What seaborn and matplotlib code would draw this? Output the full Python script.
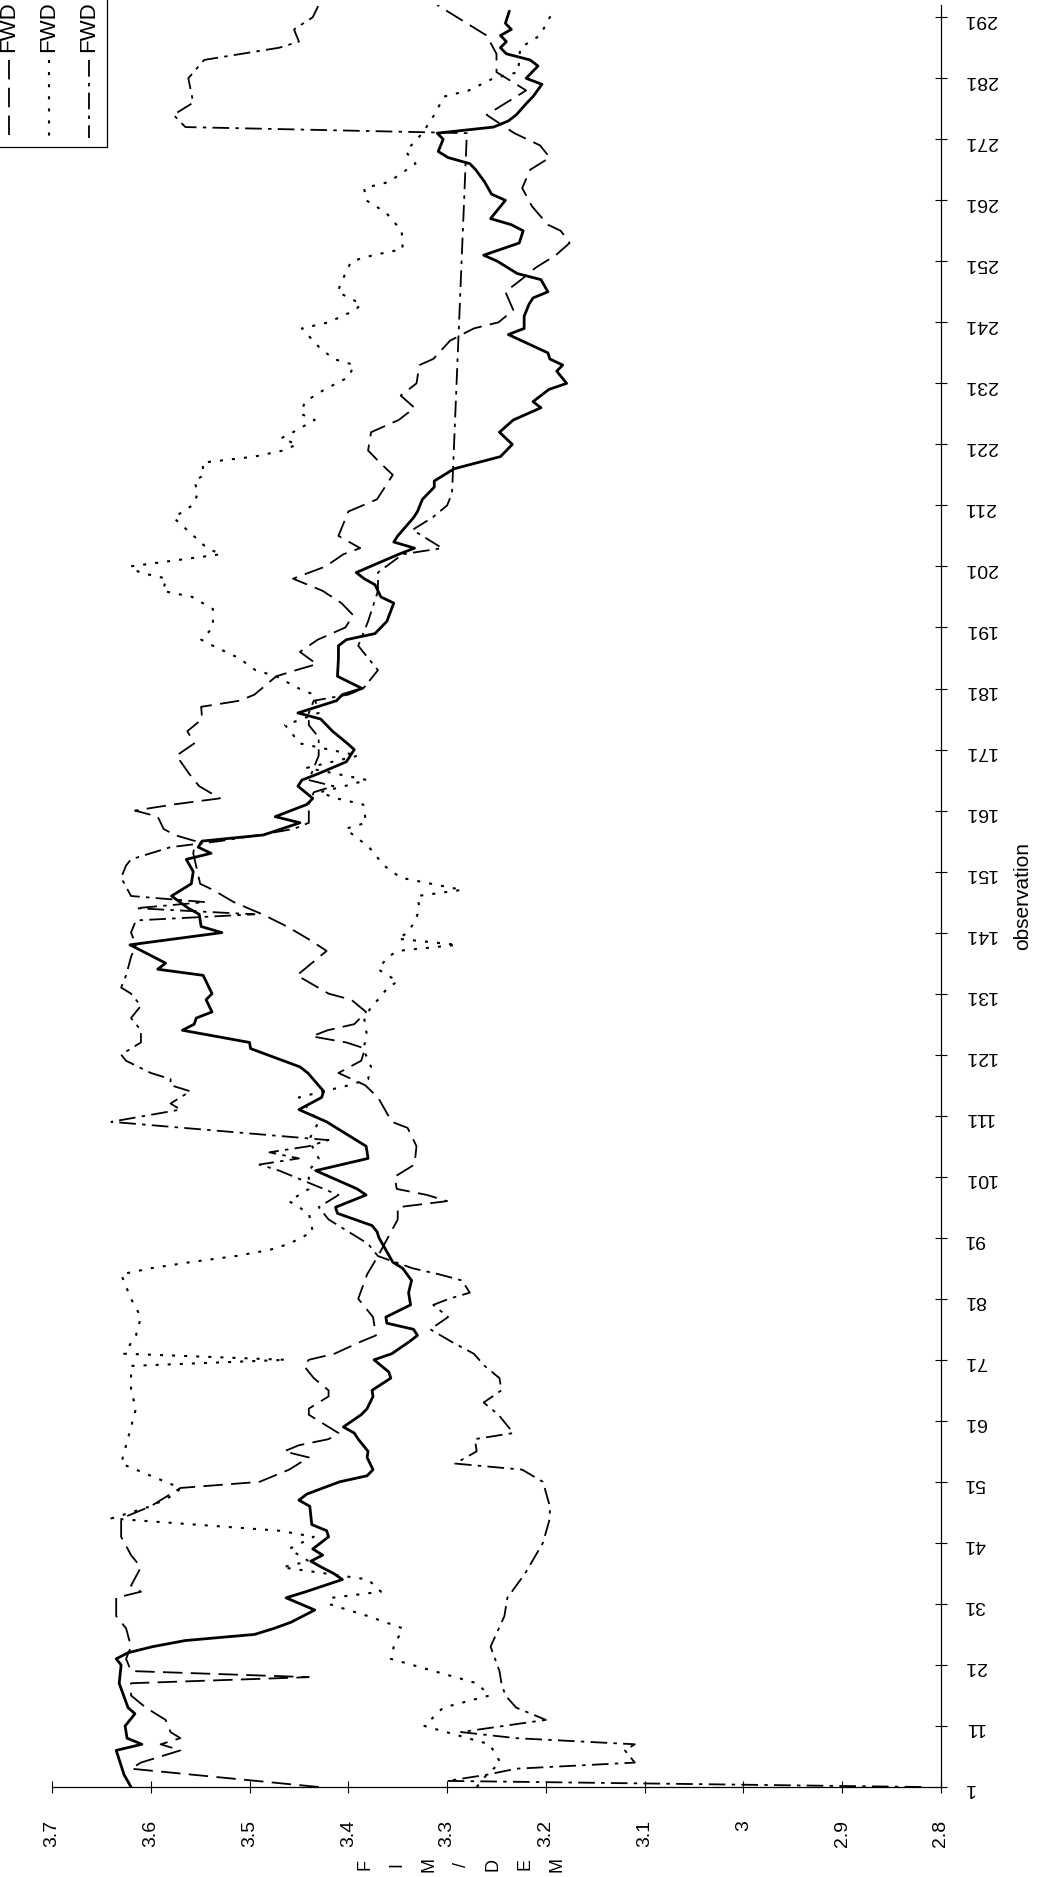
import matplotlib
matplotlib.use("Agg")
import matplotlib.pyplot as plt
import seaborn as sns
import pandas as pd
from matplotlib.lines import Line2D
from matplotlib.patches import Rectangle

W, H = 1041, 1877

# FIM/DEM values, per observation number
spot_obs = [1, 3, 7, 8, 9, 11, 13, 14, 18, 21,
            22, 23, 24, 25, 26, 27, 28, 30, 32, 33,
            35, 36, 37, 38, 39, 40, 42, 43, 44, 47,
            48, 49, 51, 52, 53, 55, 56, 58, 59, 60,
            62, 63, 65, 66, 68, 69, 71, 72, 74, 75,
            76, 77, 78, 80, 82, 84, 86, 87, 91, 92,
            93, 95, 96, 98, 99, 102, 104, 106, 110, 112,
            114, 115, 118, 119, 122, 123, 125, 126, 127, 128,
            130, 131, 134, 135, 136, 139, 141, 142, 144, 145,
            147, 149, 151, 153, 154, 155, 156, 157, 159, 160,
            162, 163, 165, 166, 167, 169, 171, 172, 174, 176,
            177, 179, 180, 181, 183, 186, 188, 189, 190, 192,
            195, 196, 198, 199, 200, 203, 204, 205, 206, 209,
            210, 212, 214, 215, 217, 219, 221, 223, 225, 227,
            228, 230, 231, 233, 234, 235, 236, 239, 240, 242,
            244, 245, 246, 248, 249, 251, 252, 254, 256, 257,
            258, 261, 262, 264, 266, 267, 268, 269, 271, 272,
            273, 274, 275, 277, 278, 280, 281, 283, 284, 285,
            286, 287, 288, 289, 290, 292]
spot_val = [3.620, 3.627, 3.635, 3.609, 3.624, 3.626, 3.616, 3.623, 3.632, 3.630,
            3.635, 3.623, 3.598, 3.565, 3.495, 3.475, 3.458, 3.434, 3.463, 3.443,
            3.406, 3.415, 3.427, 3.438, 3.426, 3.436, 3.420, 3.422, 3.437, 3.439,
            3.450, 3.442, 3.409, 3.381, 3.375, 3.381, 3.380, 3.390, 3.394, 3.405,
            3.387, 3.381, 3.375, 3.376, 3.357, 3.359, 3.374, 3.356, 3.338, 3.330,
            3.334, 3.361, 3.362, 3.337, 3.339, 3.336, 3.345, 3.355, 3.369, 3.371,
            3.376, 3.411, 3.413, 3.382, 3.391, 3.433, 3.380, 3.382, 3.422, 3.450,
            3.427, 3.425, 3.441, 3.449, 3.499, 3.500, 3.568, 3.556, 3.554, 3.538,
            3.544, 3.538, 3.547, 3.593, 3.585, 3.621, 3.528, 3.549, 3.551, 3.562,
            3.579, 3.559, 3.557, 3.564, 3.539, 3.552, 3.548, 3.486, 3.449, 3.474,
            3.442, 3.436, 3.451, 3.447, 3.431, 3.402, 3.394, 3.401, 3.416, 3.428,
            3.451, 3.412, 3.406, 3.386, 3.411, 3.410, 3.410, 3.402, 3.373, 3.361,
            3.354, 3.367, 3.373, 3.384, 3.392, 3.349, 3.333, 3.354, 3.350, 3.334,
            3.330, 3.325, 3.313, 3.313, 3.293, 3.246, 3.234, 3.247, 3.233, 3.205,
            3.213, 3.197, 3.179, 3.189, 3.183, 3.196, 3.198, 3.238, 3.222, 3.222,
            3.217, 3.213, 3.198, 3.205, 3.229, 3.249, 3.263, 3.227, 3.223, 3.235,
            3.256, 3.241, 3.255, 3.262, 3.271, 3.277, 3.299, 3.309, 3.304, 3.310,
            3.253, 3.238, 3.230, 3.219, 3.213, 3.204, 3.220, 3.208, 3.216, 3.240,
            3.246, 3.240, 3.246, 3.235, 3.241, 3.237]

fwd_dash_obs = [1, 4, 5, 7, 8, 9, 10, 12, 13, 14,
                16, 18, 19, 20, 22, 24, 27, 29, 32, 33,
                34, 37, 39, 42, 45, 47, 49, 50, 51, 52,
                53, 55, 56, 57, 58, 59, 60, 62, 63, 65,
                66, 68, 70, 71, 72, 74, 75, 78, 81, 85,
                88, 91, 94, 96, 97, 98, 99, 101, 103, 106,
                109, 110, 114, 116, 118, 120, 122, 123, 124, 125,
                126, 128, 130, 131, 134, 138, 140, 142, 144, 146,
                148, 149, 154, 156, 157, 158, 160, 161, 162, 163,
                165, 167, 170, 172, 174, 176, 178, 179, 180, 183,
                184, 185, 187, 189, 191, 193, 195, 197, 199, 201,
                203, 204, 206, 210, 212, 216, 218, 220, 223, 225,
                227, 229, 231, 234, 235, 238, 240, 241, 243, 246,
                248, 250, 252, 254, 256, 257, 260, 263, 266, 268,
                270, 272, 275, 276, 279, 282, 285, 288, 290, 292,
                293]
fwd_dash_val = [3.43, 3.62, 3.61, 3.57, 3.59, 3.57, 3.58, 3.585, 3.595, 3.605,
                3.62, 3.62, 3.44, 3.62, 3.625, 3.62, 3.625, 3.635, 3.635, 3.61,
                3.62, 3.61, 3.62, 3.63, 3.63, 3.60, 3.58, 3.57, 3.49, 3.475,
                3.46, 3.44, 3.465, 3.45, 3.42, 3.41, 3.42, 3.44, 3.44, 3.42,
                3.42, 3.435, 3.445, 3.44, 3.414, 3.387, 3.372, 3.375, 3.39, 3.381,
                3.37, 3.36, 3.35, 3.35, 3.30, 3.32, 3.351, 3.353, 3.333, 3.331,
                3.34, 3.356, 3.37, 3.383, 3.41, 3.387, 3.383, 3.402, 3.437, 3.421,
                3.394, 3.382, 3.397, 3.42, 3.452, 3.422, 3.441, 3.462, 3.487, 3.516,
                3.537, 3.55, 3.557, 3.555, 3.576, 3.587, 3.593, 3.616, 3.577, 3.53,
                3.551, 3.561, 3.574, 3.556, 3.563, 3.548, 3.549, 3.51, 3.495, 3.473,
                3.453, 3.432, 3.449, 3.431, 3.403, 3.395, 3.407, 3.426, 3.456, 3.423,
                3.405, 3.388, 3.41, 3.40, 3.371, 3.355, 3.368, 3.38, 3.377, 3.349,
                3.333, 3.347, 3.331, 3.328, 3.314, 3.297, 3.273, 3.248, 3.233, 3.241,
                3.225, 3.21, 3.19, 3.176, 3.185, 3.198, 3.214, 3.224, 3.216, 3.196,
                3.206, 3.232, 3.26, 3.25, 3.22, 3.25, 3.25, 3.26, 3.28, 3.30,
                3.31]

fwd_dot_obs = [1, 3, 5, 8, 11, 14, 16, 18, 22, 24,
               27, 29, 31, 32, 33, 35, 37, 38, 40, 42,
               43, 45, 47, 49, 50, 52, 54, 57, 60, 63,
               66, 70, 71, 72, 75, 78, 81, 85, 86, 87,
               88, 89, 90, 92, 95, 97, 99, 102, 104, 107,
               110, 112, 114, 115, 116, 117, 119, 122, 124, 127,
               129, 130, 132, 133, 135, 137, 138, 139, 140, 141,
               143, 145, 147, 148, 150, 152, 155, 158, 159, 162,
               163, 164, 165, 166, 168, 170, 172, 175, 177, 180,
               181, 183, 184, 186, 188, 189, 191, 194, 196, 197,
               199, 200, 201, 203, 204, 209, 211, 213, 215, 216,
               218, 219, 220, 221, 222, 223, 225, 226, 228, 230,
               232, 234, 235, 237, 240, 241, 243, 244, 246, 249,
               251, 252, 253, 256, 259, 261, 263, 264, 267, 269,
               272, 275, 278, 279, 281, 282, 286, 288, 291, 292]
fwd_dot_val = [3.27, 3.26, 3.246, 3.257, 3.323, 3.304, 3.257, 3.27, 3.357, 3.354,
               3.345, 3.38, 3.42, 3.417, 3.367, 3.38, 3.467, 3.44, 3.46, 3.435,
               3.47, 3.64, 3.60, 3.575, 3.57, 3.60, 3.63, 3.625, 3.62, 3.615,
               3.62, 3.62, 3.463, 3.627, 3.615, 3.61, 3.62, 3.63, 3.60, 3.56,
               3.514, 3.48, 3.46, 3.436, 3.44, 3.46, 3.44, 3.44, 3.43, 3.44,
               3.43, 3.44, 3.45, 3.425, 3.399, 3.38, 3.377, 3.385, 3.381, 3.384,
               3.376, 3.37, 3.36, 3.35, 3.37, 3.36, 3.35, 3.29, 3.35, 3.34,
               3.332, 3.328, 3.33, 3.285, 3.347, 3.364, 3.379, 3.403, 3.382, 3.385,
               3.412, 3.429, 3.404, 3.381, 3.442, 3.39, 3.449, 3.464, 3.43, 3.435,
               3.45, 3.473, 3.494, 3.511, 3.537, 3.549, 3.537, 3.537, 3.558, 3.588,
               3.584, 3.611, 3.621, 3.529, 3.543, 3.577, 3.558, 3.552, 3.556, 3.546,
               3.548, 3.495, 3.466, 3.452, 3.468, 3.456, 3.434, 3.448, 3.444, 3.424,
               3.40, 3.394, 3.415, 3.43, 3.447, 3.42, 3.393, 3.387, 3.411, 3.403,
               3.397, 3.375, 3.345, 3.346, 3.362, 3.382, 3.384, 3.359, 3.332, 3.342,
               3.325, 3.313, 3.303, 3.278, 3.253, 3.228, 3.226, 3.206, 3.196, 3.19]

fwd_dashdot_obs = [1, 2, 3, 4, 5, 7, 8, 9, 10, 12,
                   14, 16, 18, 20, 24, 29, 32, 36, 41, 45,
                   47, 51, 53, 54, 56, 58, 59, 62, 64, 66,
                   68, 70, 72, 74, 76, 78, 80, 81, 82, 84,
                   85, 86, 88, 90, 92, 94, 96, 98, 100, 102,
                   103, 104, 105, 106, 107, 110, 112, 113, 115, 116,
                   117, 118, 120, 121, 123, 125, 127, 129, 131, 132,
                   134, 137, 139, 141, 143, 144, 145, 146, 147, 150,
                   152, 153, 155, 156, 157, 158, 159, 160, 162, 164,
                   165, 166, 170, 173, 175, 177, 179, 180, 181, 184,
                   188, 192, 197, 200, 203, 204, 207, 209, 211, 213,
                   272, 273, 275, 277, 281, 284, 286, 287, 289, 291,
                   293]
fwd_dashdot_val = [2.82, 3.30, 3.26, 3.23, 3.11, 3.12, 3.11, 3.23, 3.286, 3.20,
                   3.23, 3.241, 3.245, 3.247, 3.256, 3.242, 3.239, 3.221, 3.203, 3.196,
                   3.196, 3.203, 3.224, 3.292, 3.27, 3.272, 3.233, 3.248, 3.263, 3.245,
                   3.247, 3.262, 3.273, 3.296, 3.317, 3.299, 3.314, 3.298, 3.277, 3.285,
                   3.308, 3.335, 3.37, 3.38, 3.40, 3.42, 3.43, 3.41, 3.44, 3.47,
                   3.49, 3.45, 3.48, 3.44, 3.42, 3.64, 3.57, 3.58, 3.56, 3.58,
                   3.58, 3.60, 3.625, 3.63, 3.61, 3.61, 3.62, 3.61, 3.62, 3.63,
                   3.625, 3.62, 3.615, 3.62, 3.615, 3.495, 3.615, 3.545, 3.62, 3.63,
                   3.625, 3.62, 3.58, 3.53, 3.49, 3.455, 3.44, 3.44, 3.44, 3.435,
                   3.415, 3.44, 3.43, 3.43, 3.44, 3.44, 3.435, 3.40, 3.385, 3.37,
                   3.39, 3.38, 3.37, 3.37, 3.345, 3.305, 3.335, 3.315, 3.30, 3.295,
                   3.28, 3.565, 3.577, 3.557, 3.562, 3.546, 3.47, 3.45, 3.455, 3.436,
                   3.43]

value_ticks = [3.7, 3.6, 3.5, 3.4, 3.3, 3.2, 3.1, 3.0, 2.9, 2.8]
value_labels = ["3.7", "3.6", "3.5", "3.4", "3.3", "3.2", "3.1", "3", "2.9", "2.8"]
obs_ticks = [1, 11, 21, 31, 41, 51, 61, 71, 81, 91, 101, 111, 121, 131, 141,
             151, 161, 171, 181, 191, 201, 211, 221, 231, 241, 251, 261, 271,
             281, 291]
legend_labels = ["FWD", "FWD", "FWD"]

# dash patterns in points (not scaled by line width)
DASHED = (0, (14, 6))
DOTTED = (0, (2.2, 6.5))
DASHDOT = (0, (12, 4.5, 2.5, 4.5))

sns.set_theme(style="white")
plt.rcParams["font.family"] = ["Liberation Sans", "DejaVu Sans"]
plt.rcParams["lines.scale_dashes"] = False

fig = plt.figure(figsize=(W / 100, H / 100), dpi=100)
# chart is printed turned on its side: value runs left->right, observation bottom->top
ax = fig.add_axes([52 / W, 1 - 1787 / H, 889 / W, 1782 / H])

series = [
    (spot_obs, spot_val, "-", 2.0),
    (fwd_dash_obs, fwd_dash_val, DASHED, 1.3),
    (fwd_dot_obs, fwd_dot_val, DOTTED, 1.5),
    (fwd_dashdot_obs, fwd_dashdot_val, DASHDOT, 1.3),
]
for obs, val, ls, lw in series:
    df = pd.DataFrame({"observation": obs, "value": val})
    sns.lineplot(data=df, x="value", y="observation", orient="y", sort=False,
                 estimator=None, color="black", linestyle=ls, linewidth=lw,
                 legend=False, ax=ax)

ax.set_xlim(3.7, 2.8)
ax.set_ylim(1, 293)
ax.grid(False)
for side in ("top", "left"):
    ax.spines[side].set_visible(False)
for side in ("bottom", "right"):
    ax.spines[side].set_color("black")
    ax.spines[side].set_linewidth(0.9)

ax.yaxis.tick_right()
ax.yaxis.set_label_position("right")
ax.set_xticks(value_ticks, labels=value_labels, rotation=90)
ax.set_yticks(obs_ticks, labels=[str(t) for t in obs_ticks], rotation=180)
ax.tick_params(axis="x", bottom=True, direction="inout", length=9, width=0.8,
               pad=19, labelsize=14, colors="black")
ax.tick_params(axis="y", right=True, left=False, direction="inout", length=9,
               width=0.8, pad=12, labelsize=14, colors="black")

ax.set_ylabel("observation", fontsize=15, rotation=90, labelpad=12, color="black")
ax.set_xlabel("F\nI\nM\n/\nD\nE\nM", fontsize=13, rotation=90, linespacing=2.15,
              color="black")
ax.xaxis.set_label_coords((461 - 52) / 889, -(1857 - 1787) / 1782)

# legend box in the top-left corner, partly cut off by the page edge
def fx(px):
    return px / W

def fy(py):
    return 1 - py / H

fig.add_artist(Rectangle((fx(-4), fy(147)), 111 / W, 151 / H, fill=False,
                         lw=0.9, ec="black", transform=fig.transFigure))
for x, (ls, lw), lab in zip([9, 49, 89], [(DASHED, 1.3), (DOTTED, 1.5), (DASHDOT, 1.3)],
                            legend_labels):
    fig.add_artist(Line2D([fx(x), fx(x)], [fy(60), fy(138)], linestyle=ls,
                          linewidth=lw, color="black", transform=fig.transFigure))
    fig.text(fx(x), fy(52), lab, rotation=90, ha="center", va="bottom",
             fontsize=16, color="black")

fig.savefig("out.png", dpi=100)
